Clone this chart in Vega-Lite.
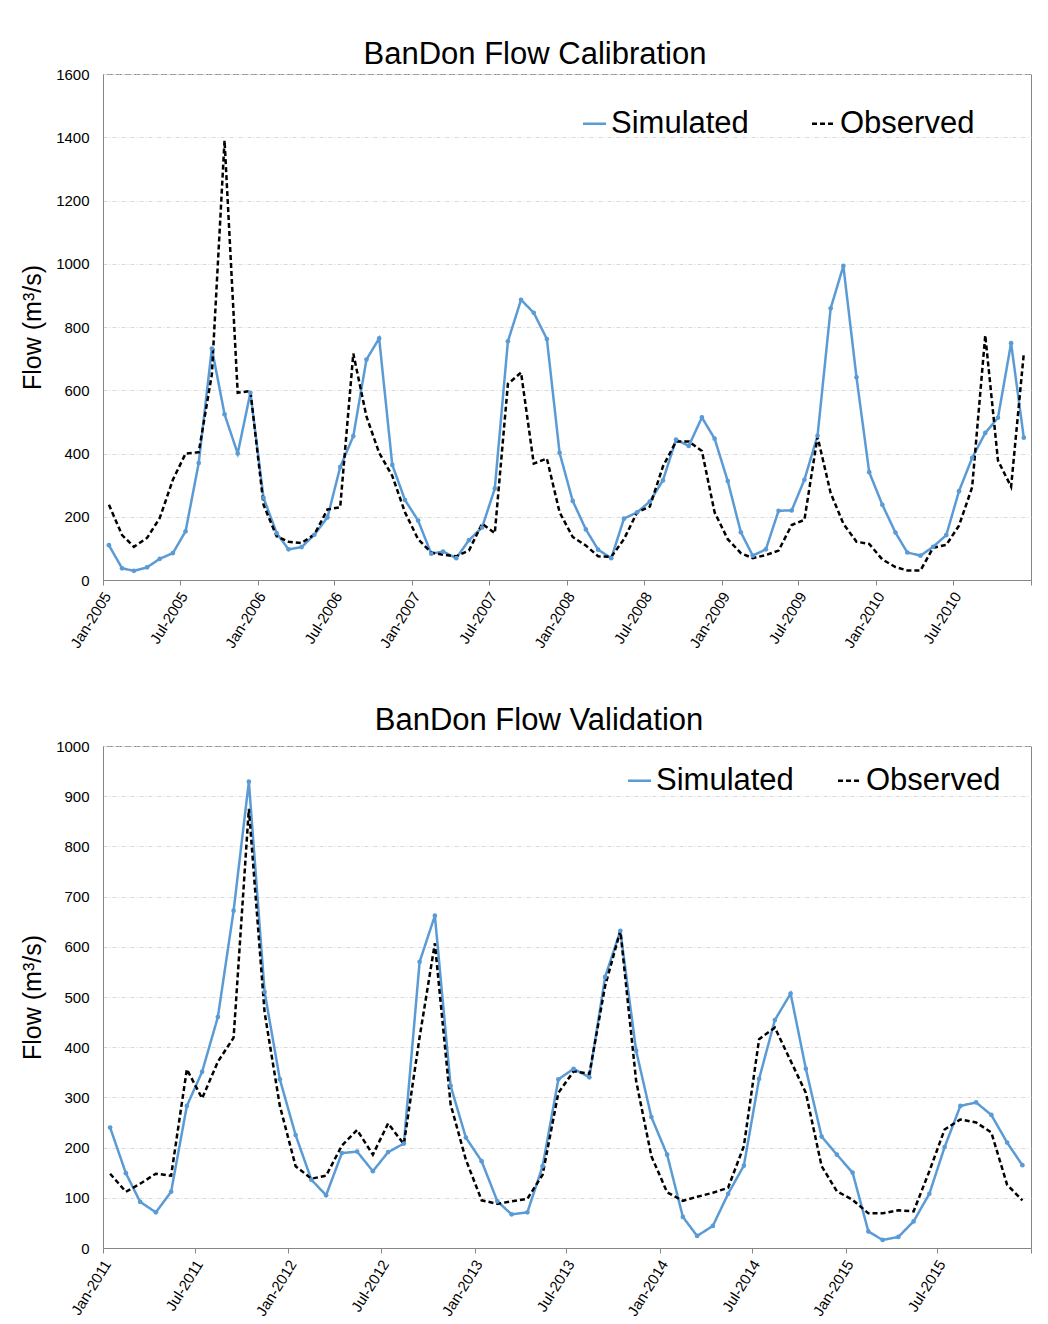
{
  "$schema": "https://vega.github.io/schema/vega-lite/v6.json",
  "background": "white",
  "padding": {"left": 20, "top": 38, "right": 0, "bottom": 0},
  "spacing": 53,
  "config": {
    "font": "Liberation Sans",
    "view": {"stroke": "#868686", "strokeWidth": 1},
    "axis": {"labelColor": "black", "titleColor": "black", "domainColor": "#868686", "tickColor": "#868686", "labelFont": "Liberation Sans", "titleFont": "Liberation Sans"},
    "title": {"font": "Liberation Sans", "color": "black", "fontWeight": "normal"}
  },
  "datasets": {
    "cal": [
      {"date": "2005-01-15", "Simulated": 110, "Observed": 238},
      {"date": "2005-02-15", "Simulated": 37, "Observed": 142},
      {"date": "2005-03-15", "Simulated": 29, "Observed": 105},
      {"date": "2005-04-15", "Simulated": 40, "Observed": 133},
      {"date": "2005-05-15", "Simulated": 67, "Observed": 196},
      {"date": "2005-06-15", "Simulated": 85, "Observed": 317},
      {"date": "2005-07-15", "Simulated": 154, "Observed": 400},
      {"date": "2005-08-15", "Simulated": 370, "Observed": 404},
      {"date": "2005-09-15", "Simulated": 732, "Observed": 650},
      {"date": "2005-10-15", "Simulated": 524, "Observed": 1390},
      {"date": "2005-11-15", "Simulated": 400, "Observed": 592},
      {"date": "2005-12-15", "Simulated": 592, "Observed": 598},
      {"date": "2006-01-15", "Simulated": 260, "Observed": 238},
      {"date": "2006-02-15", "Simulated": 148, "Observed": 138},
      {"date": "2006-03-15", "Simulated": 97, "Observed": 121},
      {"date": "2006-04-15", "Simulated": 104, "Observed": 117},
      {"date": "2006-05-15", "Simulated": 143, "Observed": 144},
      {"date": "2006-06-15", "Simulated": 198, "Observed": 223},
      {"date": "2006-07-15", "Simulated": 357, "Observed": 230},
      {"date": "2006-08-15", "Simulated": 455, "Observed": 716},
      {"date": "2006-09-15", "Simulated": 697, "Observed": 517},
      {"date": "2006-10-15", "Simulated": 764, "Observed": 402},
      {"date": "2006-11-15", "Simulated": 364, "Observed": 329},
      {"date": "2006-12-15", "Simulated": 253, "Observed": 214},
      {"date": "2007-01-15", "Simulated": 188, "Observed": 129},
      {"date": "2007-02-15", "Simulated": 83, "Observed": 87},
      {"date": "2007-03-15", "Simulated": 90, "Observed": 80},
      {"date": "2007-04-15", "Simulated": 69, "Observed": 75},
      {"date": "2007-05-15", "Simulated": 126, "Observed": 93},
      {"date": "2007-06-15", "Simulated": 166, "Observed": 178},
      {"date": "2007-07-15", "Simulated": 289, "Observed": 148},
      {"date": "2007-08-15", "Simulated": 755, "Observed": 620},
      {"date": "2007-09-15", "Simulated": 886, "Observed": 656},
      {"date": "2007-10-15", "Simulated": 845, "Observed": 368},
      {"date": "2007-11-15", "Simulated": 762, "Observed": 384},
      {"date": "2007-12-15", "Simulated": 402, "Observed": 214},
      {"date": "2008-01-15", "Simulated": 250, "Observed": 136},
      {"date": "2008-02-15", "Simulated": 160, "Observed": 109},
      {"date": "2008-03-15", "Simulated": 96, "Observed": 75},
      {"date": "2008-04-15", "Simulated": 69, "Observed": 73},
      {"date": "2008-05-15", "Simulated": 194, "Observed": 129},
      {"date": "2008-06-15", "Simulated": 214, "Observed": 214},
      {"date": "2008-07-15", "Simulated": 248, "Observed": 232},
      {"date": "2008-08-15", "Simulated": 315, "Observed": 359},
      {"date": "2008-09-15", "Simulated": 444, "Observed": 438},
      {"date": "2008-10-15", "Simulated": 424, "Observed": 438},
      {"date": "2008-11-15", "Simulated": 514, "Observed": 408},
      {"date": "2008-12-15", "Simulated": 447, "Observed": 214},
      {"date": "2009-01-15", "Simulated": 313, "Observed": 129},
      {"date": "2009-02-15", "Simulated": 151, "Observed": 85},
      {"date": "2009-03-15", "Simulated": 77, "Observed": 69},
      {"date": "2009-04-15", "Simulated": 97, "Observed": 79},
      {"date": "2009-05-15", "Simulated": 219, "Observed": 93},
      {"date": "2009-06-15", "Simulated": 220, "Observed": 174},
      {"date": "2009-07-15", "Simulated": 317, "Observed": 190},
      {"date": "2009-08-15", "Simulated": 456, "Observed": 453},
      {"date": "2009-09-15", "Simulated": 859, "Observed": 275},
      {"date": "2009-10-15", "Simulated": 993, "Observed": 178},
      {"date": "2009-11-15", "Simulated": 641, "Observed": 121},
      {"date": "2009-12-15", "Simulated": 341, "Observed": 114},
      {"date": "2010-01-15", "Simulated": 238, "Observed": 65},
      {"date": "2010-02-15", "Simulated": 150, "Observed": 41},
      {"date": "2010-03-15", "Simulated": 87, "Observed": 30},
      {"date": "2010-04-15", "Simulated": 77, "Observed": 30},
      {"date": "2010-05-15", "Simulated": 105, "Observed": 102},
      {"date": "2010-06-15", "Simulated": 142, "Observed": 111},
      {"date": "2010-07-15", "Simulated": 281, "Observed": 172},
      {"date": "2010-08-15", "Simulated": 386, "Observed": 293},
      {"date": "2010-09-15", "Simulated": 465, "Observed": 774},
      {"date": "2010-10-15", "Simulated": 513, "Observed": 378},
      {"date": "2010-11-15", "Simulated": 749, "Observed": 295},
      {"date": "2010-12-15", "Simulated": 450, "Observed": 716}
    ],
    "val": [
      {"date": "2011-01-15", "Simulated": 240, "Observed": 148},
      {"date": "2011-02-15", "Simulated": 149, "Observed": 112},
      {"date": "2011-03-15", "Simulated": 92, "Observed": 128},
      {"date": "2011-04-15", "Simulated": 71, "Observed": 148},
      {"date": "2011-05-15", "Simulated": 112, "Observed": 144},
      {"date": "2011-06-15", "Simulated": 283, "Observed": 356},
      {"date": "2011-07-15", "Simulated": 351, "Observed": 298},
      {"date": "2011-08-15", "Simulated": 460, "Observed": 371},
      {"date": "2011-09-15", "Simulated": 672, "Observed": 419},
      {"date": "2011-10-15", "Simulated": 929, "Observed": 875},
      {"date": "2011-11-15", "Simulated": 510, "Observed": 469},
      {"date": "2011-12-15", "Simulated": 336, "Observed": 283},
      {"date": "2012-01-15", "Simulated": 225, "Observed": 163},
      {"date": "2012-02-15", "Simulated": 136, "Observed": 138},
      {"date": "2012-03-15", "Simulated": 105, "Observed": 144},
      {"date": "2012-04-15", "Simulated": 189, "Observed": 204},
      {"date": "2012-05-15", "Simulated": 192, "Observed": 235},
      {"date": "2012-06-15", "Simulated": 153, "Observed": 186},
      {"date": "2012-07-15", "Simulated": 191, "Observed": 248},
      {"date": "2012-08-15", "Simulated": 208, "Observed": 207},
      {"date": "2012-09-15", "Simulated": 570, "Observed": 420},
      {"date": "2012-10-15", "Simulated": 662, "Observed": 607},
      {"date": "2012-11-15", "Simulated": 323, "Observed": 286},
      {"date": "2012-12-15", "Simulated": 220, "Observed": 176},
      {"date": "2013-01-15", "Simulated": 173, "Observed": 95},
      {"date": "2013-02-15", "Simulated": 93, "Observed": 88},
      {"date": "2013-03-15", "Simulated": 67, "Observed": 93},
      {"date": "2013-04-15", "Simulated": 71, "Observed": 98},
      {"date": "2013-05-15", "Simulated": 163, "Observed": 146},
      {"date": "2013-06-15", "Simulated": 336, "Observed": 309},
      {"date": "2013-07-15", "Simulated": 357, "Observed": 352},
      {"date": "2013-08-15", "Simulated": 340, "Observed": 347},
      {"date": "2013-09-15", "Simulated": 540, "Observed": 522},
      {"date": "2013-10-15", "Simulated": 632, "Observed": 632},
      {"date": "2013-11-15", "Simulated": 393, "Observed": 333},
      {"date": "2013-12-15", "Simulated": 261, "Observed": 183},
      {"date": "2014-01-15", "Simulated": 186, "Observed": 111},
      {"date": "2014-02-15", "Simulated": 62, "Observed": 94},
      {"date": "2014-03-15", "Simulated": 24, "Observed": 102},
      {"date": "2014-04-15", "Simulated": 44, "Observed": 110},
      {"date": "2014-05-15", "Simulated": 108, "Observed": 120},
      {"date": "2014-06-15", "Simulated": 164, "Observed": 203},
      {"date": "2014-07-15", "Simulated": 337, "Observed": 416},
      {"date": "2014-08-15", "Simulated": 454, "Observed": 439},
      {"date": "2014-09-15", "Simulated": 507, "Observed": 373},
      {"date": "2014-10-15", "Simulated": 357, "Observed": 309},
      {"date": "2014-11-15", "Simulated": 222, "Observed": 163},
      {"date": "2014-12-15", "Simulated": 186, "Observed": 113},
      {"date": "2015-01-15", "Simulated": 150, "Observed": 96},
      {"date": "2015-02-15", "Simulated": 33, "Observed": 69},
      {"date": "2015-03-15", "Simulated": 16, "Observed": 69},
      {"date": "2015-04-15", "Simulated": 22, "Observed": 75},
      {"date": "2015-05-15", "Simulated": 53, "Observed": 73},
      {"date": "2015-06-15", "Simulated": 108, "Observed": 153},
      {"date": "2015-07-15", "Simulated": 201, "Observed": 236},
      {"date": "2015-08-15", "Simulated": 283, "Observed": 256},
      {"date": "2015-09-15", "Simulated": 290, "Observed": 250},
      {"date": "2015-10-15", "Simulated": 265, "Observed": 230},
      {"date": "2015-11-15", "Simulated": 210, "Observed": 126},
      {"date": "2015-12-15", "Simulated": 165, "Observed": 95}
    ]
  },
  "vconcat": [
    {
      "width": 928,
      "height": 506,
      "title": {"text": "BanDon Flow Calibration", "fontSize": 31, "anchor": "middle", "frame": "group", "dx": -32, "offset": -4},
      "data": {"name": "cal"},
      "transform": [{"fold": ["Simulated", "Observed"], "as": ["series", "flow"]}],
      "encoding": {
        "x": {
          "field": "date", "type": "temporal",
          "scale": {"type": "utc", "domain": [{"year": 2005, "month": 1, "date": 1, "utc": true}, {"year": 2011, "month": 1, "date": 1, "utc": true}]},
          "axis": {"title": null, "grid": false, "tickCount": {"interval": "month", "step": 6}, "labelExpr": "utcyear(datum.value) >= 2011 ? '' : utcFormat(datum.value, '%b-%Y')", "labelAngle": -58, "labelAlign": "right", "labelBaseline": "middle", "labelFontSize": 15, "tickSize": 5, "labelPadding": 8, "labelOffset": 4, "labelFlush": false, "labelOverlap": false}
        },
        "y": {
          "field": "flow", "type": "quantitative",
          "scale": {"domain": [0, 1600], "nice": false},
          "axis": {"values": [0, 200, 400, 600, 800, 1000, 1200, 1400, 1600], "format": "d", "title": "Flow (m³/s)", "titleFontSize": 25, "titleFontWeight": "normal", "titlePadding": 10, "grid": true, "gridColor": "#d9d9d9", "gridDash": [4, 2, 1, 2], "ticks": false, "labelFontSize": 15, "labelPadding": 14}
        },
        "color": {
          "field": "series", "type": "nominal",
          "scale": {"domain": ["Simulated", "Observed"], "range": ["#5B9BD5", "#000000"]},
          "legend": {"orient": "none", "legendX": 476, "legendY": 34, "direction": "horizontal", "title": null, "symbolType": "stroke", "symbolSize": 529, "symbolStrokeWidth": 2.5, "labelFontSize": 31, "labelFont": "Liberation Sans", "labelColor": "black", "labelOffset": 1, "columnPadding": 58, "labelLimit": 400}
        }
      },
      "layer": [
        {
          "mark": {"type": "line", "strokeWidth": 2.5},
          "encoding": {
            "strokeDash": {
              "field": "series", "type": "nominal",
              "scale": {"domain": ["Simulated", "Observed"], "range": [[1, 0], [5, 3]]},
              "legend": {"orient": "none", "legendX": 476, "legendY": 34, "direction": "horizontal", "title": null, "symbolType": "stroke", "symbolSize": 529, "symbolStrokeWidth": 2.5, "labelFontSize": 31, "labelFont": "Liberation Sans", "labelColor": "black", "labelOffset": 1, "columnPadding": 58, "labelLimit": 400}
            }
          }
        },
        {
          "transform": [{"filter": "datum.series == 'Simulated'"}],
          "mark": {"type": "point", "filled": true, "size": 22, "opacity": 1}
        }
      ]
    },
    {
      "width": 928,
      "height": 502,
      "title": {"text": "BanDon Flow Validation", "fontSize": 31, "anchor": "middle", "frame": "group", "dx": -28, "offset": 2},
      "data": {"name": "val"},
      "transform": [{"fold": ["Simulated", "Observed"], "as": ["series", "flow"]}],
      "encoding": {
        "x": {
          "field": "date", "type": "temporal",
          "scale": {"type": "utc", "domain": [{"year": 2011, "month": 1, "date": 1, "utc": true}, {"year": 2016, "month": 1, "date": 1, "utc": true}]},
          "axis": {"title": null, "grid": false, "tickCount": {"interval": "month", "step": 6}, "labelExpr": "utcyear(datum.value) >= 2016 ? '' : utcFormat(datum.value, '%b-%Y')", "labelAngle": -58, "labelAlign": "right", "labelBaseline": "middle", "labelFontSize": 15, "tickSize": 5, "labelPadding": 8, "labelOffset": 4, "labelFlush": false, "labelOverlap": false}
        },
        "y": {
          "field": "flow", "type": "quantitative",
          "scale": {"domain": [0, 1000], "nice": false},
          "axis": {"values": [0, 100, 200, 300, 400, 500, 600, 700, 800, 900, 1000], "format": "d", "title": "Flow (m³/s)", "titleFontSize": 25, "titleFontWeight": "normal", "titlePadding": 10, "grid": true, "gridColor": "#d9d9d9", "gridDash": [4, 2, 1, 2], "ticks": false, "labelFontSize": 15, "labelPadding": 14}
        },
        "color": {
          "field": "series", "type": "nominal",
          "scale": {"domain": ["Simulated", "Observed"], "range": ["#5B9BD5", "#000000"]},
          "legend": {"orient": "none", "legendX": 521, "legendY": 19, "direction": "horizontal", "title": null, "symbolType": "stroke", "symbolSize": 529, "symbolStrokeWidth": 2.5, "labelFontSize": 31, "labelFont": "Liberation Sans", "labelColor": "black", "labelOffset": 1, "columnPadding": 39, "labelLimit": 400}
        }
      },
      "layer": [
        {
          "mark": {"type": "line", "strokeWidth": 2.5},
          "encoding": {
            "strokeDash": {
              "field": "series", "type": "nominal",
              "scale": {"domain": ["Simulated", "Observed"], "range": [[1, 0], [5, 3]]},
              "legend": {"orient": "none", "legendX": 521, "legendY": 19, "direction": "horizontal", "title": null, "symbolType": "stroke", "symbolSize": 529, "symbolStrokeWidth": 2.5, "labelFontSize": 31, "labelFont": "Liberation Sans", "labelColor": "black", "labelOffset": 1, "columnPadding": 39, "labelLimit": 400}
            }
          }
        },
        {
          "transform": [{"filter": "datum.series == 'Simulated'"}],
          "mark": {"type": "point", "filled": true, "size": 22, "opacity": 1}
        }
      ]
    }
  ],
  "resolve": {"scale": {"color": "independent", "strokeDash": "independent"}, "legend": {"color": "independent", "strokeDash": "independent"}}
}
